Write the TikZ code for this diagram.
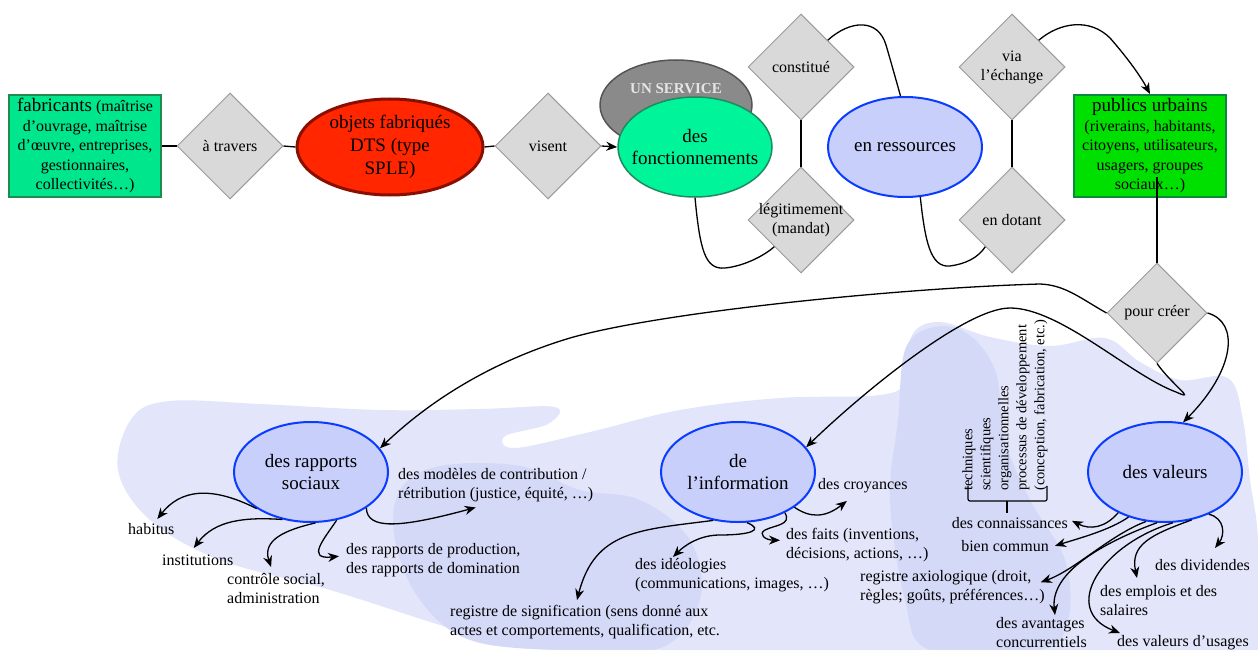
\documentclass[tikz,border=0pt]{standalone}
\usepackage{fontspec}
\setmainfont{Liberation Serif}
\usetikzlibrary{shapes.geometric,arrows.meta}
\newcommand{\myfs}[2]{\fontsize{#1}{#2}\selectfont}
\definecolor{fabfill}{HTML}{00E68C}
\definecolor{fabborder}{HTML}{1E8C50}
\definecolor{pubfill}{HTML}{00E000}
\definecolor{pubborder}{HTML}{0B8A3E}
\definecolor{objfill}{HTML}{FF2600}
\definecolor{objborder}{HTML}{8B0F00}
\definecolor{fonfill}{HTML}{00F59A}
\definecolor{fonborder}{HTML}{1F8A5F}
\definecolor{svcfill}{HTML}{8A8A8A}
\definecolor{svcborder}{HTML}{555555}
\definecolor{svctext}{HTML}{E6E6E6}
\definecolor{diafill}{HTML}{D9D9D9}
\definecolor{diaborder}{HTML}{9A9A9A}
\definecolor{bluefill}{HTML}{C8CFFB}
\definecolor{blueborder}{HTML}{0A3CFF}
\definecolor{blobL}{HTML}{E3E5FB}
\definecolor{blobD}{HTML}{D5D9F8}
\tikzset{
  dia/.style={diamond, draw=diaborder, fill=diafill, line width=1pt, minimum width=106pt, minimum height=106pt, inner sep=0pt},
  dtext/.style={align=center, inner sep=0pt, font=\myfs{16}{19}},
  bell/.style={ellipse, draw=blueborder, fill=bluefill, line width=2pt, minimum width=154pt, minimum height=100pt, inner sep=0pt},
  etext/.style={align=center, inner sep=0pt, font=\myfs{19}{22}},
  lab/.style={anchor=north west, align=left, inner sep=1pt, font=\myfs{16}{19.5}},
  conn/.style={line width=1.3pt},
  arr/.style={conn, -{Stealth[length=11pt,width=9pt,inset=3.5pt]}},
}
\begin{document}
\begin{tikzpicture}[x=1pt,y=-1pt]
\useasboundingbox (0,0) rectangle (1258,650);
% background blobs
\fill[blobL] plot[smooth cycle, tension=0.6] coordinates {(118,470) (132,418) (170,401) (260,404) (380,410) (480,409) (555,407) (548,424) (505,436) (515,448) (590,432) (680,410) (780,398) (880,395) (906,380) (912,335) (940,322) (990,337) (1050,346) (1105,338) (1140,362) (1180,380) (1228,378) (1243,420) (1250,480) (1258,540) (1258,650) (720,650) (520,648) (440,625) (330,590) (220,560) (150,520)};
\fill[blobD] plot[smooth cycle, tension=0.6] coordinates {(400,490) (440,466) (520,466) (580,490) (640,500) (690,540) (700,600) (660,648) (560,650) (470,640) (420,600) (395,540)};
\fill[blobD] plot[smooth cycle, tension=0.6] coordinates {(898,420) (905,350) (930,328) (965,332) (995,370) (1005,440) (1030,500) (1065,560) (1068,620) (1040,650) (930,650) (905,600) (890,500)};

% top row
\node[draw=fabborder, fill=fabfill, line width=2pt, minimum width=152pt, minimum height=102pt, inner sep=0pt, align=center, font=\myfs{16}{19.5}] (fab) at (85,146) {{\myfs{19}{19.5}fabricants} (maîtrise\\d’ouvrage, maîtrise\\d’œuvre, entreprises,\\gestionnaires,\\collectivités…)};
\node[dia] (at) at (230,146) {};
\node[dtext] (atT) at (at) {à travers};
\node[ellipse, draw=objborder, fill=objfill, line width=3pt, minimum width=186pt, minimum height=96pt, inner sep=0pt] (obj) at (390,147) {};
\node[align=center, inner sep=0pt, font=\myfs{19}{23}] (objT) at (obj) {objets fabriqués\\DTS (type\\SPLE)};
\node[dia] (vis) at (548,146) {};
\node[dtext] (visT) at (vis) {visent};
\node[ellipse, draw=svcborder, fill=svcfill, line width=1.5pt, minimum width=152pt, minimum height=90pt, inner sep=0pt] (svc) at (676,105) {};
\node[font=\bfseries\myfs{15}{16}, text=svctext, inner sep=0pt] (svcT) at (676,89) {UN SERVICE};
\node[ellipse, draw=fonborder, fill=fonfill, line width=1.5pt, minimum width=154pt, minimum height=100pt, inner sep=0pt] (fon) at (695,147) {};
\node[etext] (fonT) at (fon) {des\\fonctionnements};
\node[dia] (cons) at (801,67) {};
\node[dtext] (consT) at (cons) {constitué};
\node[dia] (leg) at (801,220) {};
\node[dtext] (legT) at (leg) {légitimement\\(mandat)};
\node[bell] (res) at (905,147) {};
\node[etext] (resT) at (res) {en ressources};
\node[dia] (via) at (1012,67) {};
\node[dtext] (viaT) at (via) {via\\l’échange};
\node[dia] (dot) at (1012,220) {};
\node[dtext] (dotT) at (dot) {en dotant};
\node[draw=pubborder, fill=pubfill, line width=2pt, minimum width=152pt, minimum height=102pt, inner sep=0pt, align=center, font=\myfs{16}{19.5}] (pub) at (1150,146) {{\myfs{19}{19.5}publics urbains}\\(riverains, habitants,\\citoyens, utilisateurs,\\usagers, groupes\\sociaux…)};
\coordinate (pubin) at (1157,177);
\node[dia, minimum width=100pt, minimum height=100pt] (pc) at (1157,313) {};
\node[dtext] (pcT) at (pc) {pour créer};

% bottom ellipses
\node[bell] (rs) at (311,472) {};
\node[etext] (rsT) at (rs) {des rapports\\sociaux};
\node[bell] (info) at (738,472) {};
\node[etext] (infoT) at (info) {de\\l’information};
\node[bell] (val) at (1165,472) {};
\node[etext] (valT) at (val) {des valeurs};

% labels
\node[lab] (hab) at (127,522) {habitus};
\node[lab] (ins) at (161,554) {institutions};
\node[lab] (ctl) at (226,572) {contrôle social,\\administration};
\node[lab] (prod) at (345,542) {des rapports de production,\\des rapports de domination};
\node[lab] (mod) at (397,467) {des modèles de contribution /\\rétribution (justice, équité, …)};
\node[lab] (croy) at (817,477) {des croyances};
\node[lab] (faits) at (785,527) {des faits (inventions,\\décisions, actions, …)};
\node[lab] (ideo) at (634,557) {des idéologies\\(communications, images, …)};
\node[lab] (reg) at (449,604) {registre de signification (sens donné aux\\actes et comportements, qualification, etc.};
\node[lab, anchor=north east] (conn) at (1069,516) {des connaissances};
\node[lab, anchor=north east] (bien) at (1050,539) {bien commun};
\node[lab] (axio) at (859,569) {registre axiologique (droit,\\règles; goûts, préférences…)};
\node[lab] (av) at (995,616) {des avantages\\concurrentiels};
\node[lab] (vu) at (1116,634) {des valeurs d’usages};
\node[lab] (emp) at (1099,584) {des emplois et des\\salaires};
\node[lab] (div) at (1154,558) {des dividendes};
\node[rotate=90, anchor=north west, align=left, inner sep=0pt, font=\myfs{14.5}{18}] (proc) at (962,491) {techniques\\scientifiques\\organisationnelles\\processus de développement\\(conception, fabrication, etc.)};
\draw[line width=1.2pt, rounded corners=2pt] (968,486) -- (968,501) -- (1047,501) -- (1047,486);
\draw[line width=1.2pt] (1007,501) -- (1007,513);

% top connectors
\draw[conn] (fab.east) -- (at.west);
\draw[conn] (at.east) -- (obj.west);
\draw[conn] (obj.east) -- (vis.west);
\draw[arr] (vis.east) -- (fon.west);
\draw[conn] (cons.south) -- (leg.north);
\draw[conn] (via.south) -- (dot.north);
\draw[conn] (fon.south) .. controls (700,250) and (705,270) .. (725,268) .. controls (745,266) and (765,255) .. (leg.south west);
\draw[conn] (res.287) .. controls (925,240) and (930,268) .. (950,266) .. controls (965,264) and (978,258) .. (dot.south west);
\draw[conn] (cons.north east) .. controls (850,20) and (878,18) .. (886,45) .. controls (891,62) and (896,80) .. (res.95);
\draw[arr] (via.north east) .. controls (1060,22) and (1090,18) .. (1110,38) .. controls (1125,55) and (1140,75) .. (pub.north);
\draw[conn] (pubin) -- (pc.north);

% from pour creer
\draw[arr] (pc.west) .. controls (1080,298) and (1065,285) .. (1040,284) .. controls (900,288) and (660,312) .. (570,338) .. controls (480,365) and (420,410) .. (rs.19);
\draw[arr] (pc.south) .. controls (1172,385) and (1198,402) .. (1176,392) .. controls (1130,375) and (1060,308) .. (1010,308) .. controls (965,308) and (860,395) .. (info.20);
\draw[arr] (pc.east) .. controls (1240,322) and (1235,370) .. (val.70);

% rapports sociaux
\draw[arr] (rs.214) .. controls (210,485) and (180,490) .. ([xshift=6pt,yshift=3pt]hab.north);
\draw[arr] (rs.239) .. controls (245,517) and (215,520) .. ([xshift=-4pt,yshift=6pt]ins.north);
\draw[arr] (rs.275) .. controls (285,530) and (262,540) .. ([xshift=-5pt,yshift=5pt]ctl.north);
\draw[arr] (rs.298) .. controls (325,538) and (305,560) .. ([xshift=-6pt,yshift=4pt]prod.west);
\draw[arr] (rs.327) .. controls (367,530) and (400,528) .. ([xshift=-20pt,yshift=-4pt]mod.south);

% information
\draw[arr] (info.328) .. controls (810,518) and (825,518) .. ([xshift=-16pt,yshift=-7pt]croy.south);
\draw[arr] (info.319) .. controls (792,525) and (775,525) .. (765,530) .. controls (758,534) and (765,540) .. ([xshift=-5pt,yshift=5pt]faits.west);
\draw[arr] (info.280) .. controls (765,530) and (750,535) .. (720,535) .. controls (700,535) and (685,545) .. ([xshift=39pt]ideo.north west);
\draw[arr] (info.243) .. controls (640,530) and (595,530) .. ([xshift=128pt,yshift=4pt]reg.north west);

% valeurs
\draw[arr] (val.221) .. controls (1105,528) and (1090,530) .. ([xshift=3pt,yshift=2pt]conn.east);
\draw[arr] (val.231) .. controls (1110,530) and (1080,538) .. ([xshift=5pt]bien.east);
\draw[arr] (val.249) .. controls (1110,535) and (1075,570) .. ([xshift=-5pt,yshift=5pt]axio.east);
\draw[arr] (val.261) .. controls (1110,540) and (1050,570) .. ([xshift=60pt,yshift=1pt]av.north west);
\draw[arr] (val.279) .. controls (1100,545) and (1060,610) .. ([xshift=4pt,yshift=1pt]vu.north west);
\draw[arr] (val.299) .. controls (1150,535) and (1130,545) .. ([xshift=38pt,yshift=6pt]emp.north west);
\draw[arr] (val.316) .. controls (1225,518) and (1225,535) .. ([xshift=61pt,yshift=10pt]div.north west);
\end{tikzpicture}
\end{document}
